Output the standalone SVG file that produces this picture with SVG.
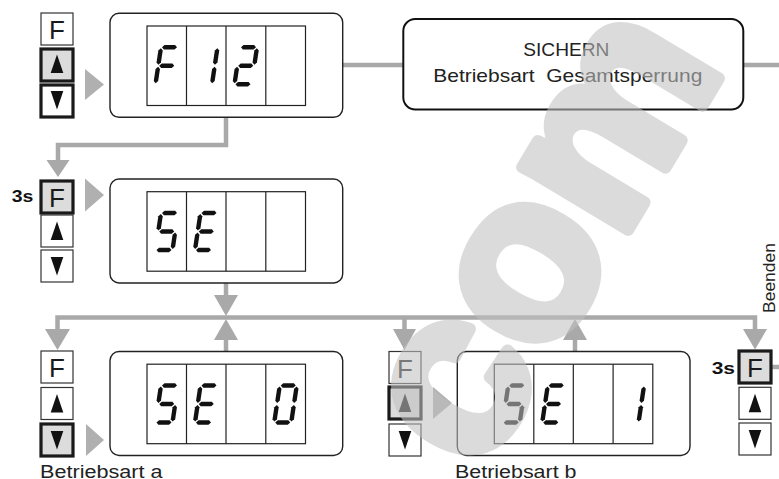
<svg xmlns="http://www.w3.org/2000/svg" width="779" height="479" viewBox="0 0 779 479">
<style>
  .wire{fill:none;stroke:#a9a9a9;stroke-width:4.5;stroke-linejoin:miter}
  .head{fill:#a9a9a9}
  .ptr{fill:#b0b0b0}
  .panel{fill:#fff;stroke:#222;stroke-width:1.4}
  .cell{fill:none;stroke:#222;stroke-width:1.2}
  .btn{fill:#fff;stroke:#333;stroke-width:1.2}
  .btn.on{stroke:#1a1a1a;stroke-width:3.2}
  .btn.lit{fill:#dcdcdc}
  .key{font-family:"Liberation Sans",Arial,sans-serif;font-size:26px;fill:#1a1a1a;text-anchor:middle}
  .tri{fill:#111}
  .seg{fill:#111}
  .lbl{font-family:"Liberation Sans",Arial,sans-serif;font-size:17.5px;fill:#222}
  .box{fill:#fff;stroke:#111;stroke-width:2}
  .hold{font-family:"Liberation Sans",Arial,sans-serif;font-size:16px;font-weight:bold;fill:#111}
  .mark{font-family:"Liberation Sans",Arial,sans-serif;font-weight:bold;font-size:233px;fill:#c1c1c1;stroke:#c1c1c1;stroke-width:12;stroke-linejoin:round;opacity:.57}
</style>
<defs>
  <!-- seven-segment pieces, upright; digits are slanted where used -->
  <path id="sa" class="seg" d="M-7.5,-18.5 l2.2,-2.2 h10.6 l2.2,2.2 l-2.2,2.2 h-10.6 z"/>
  <path id="sg" class="seg" d="M-7.5,0 l2.2,-2.2 h10.6 l2.2,2.2 l-2.2,2.2 h-10.6 z"/>
  <path id="sd" class="seg" d="M-7.5,18.5 l2.2,-2.2 h10.6 l2.2,2.2 l-2.2,2.2 h-10.6 z"/>
  <path id="sb" class="seg" d="M8.5,-17.5 l2.2,2.2 v12.1 l-2.2,2.2 l-2.2,-2.2 v-12.1 z"/>
  <path id="sc" class="seg" d="M8.5,1 l2.2,2.2 v12.1 l-2.2,2.2 l-2.2,-2.2 v-12.1 z"/>
  <path id="sf" class="seg" d="M-8.5,-17.5 l2.2,2.2 v12.1 l-2.2,2.2 l-2.2,-2.2 v-12.1 z"/>
  <path id="se" class="seg" d="M-8.5,1 l2.2,2.2 v12.1 l-2.2,2.2 l-2.2,-2.2 v-12.1 z"/>
  <g id="dF"><use href="#sa"/><use href="#sf"/><use href="#se"/><use href="#sg"/></g>
  <g id="d1"><use href="#sb"/><use href="#sc"/></g>
  <g id="d2"><use href="#sa"/><use href="#sb"/><use href="#sg"/><use href="#se"/><use href="#sd"/></g>
  <g id="dS"><use href="#sa"/><use href="#sf"/><use href="#sg"/><use href="#sc"/><use href="#sd"/></g>
  <g id="dE"><use href="#sa"/><use href="#sf"/><use href="#sg"/><use href="#se"/><use href="#sd"/></g>
  <g id="d0"><use href="#sa"/><use href="#sb"/><use href="#sc"/><use href="#sd"/><use href="#se"/><use href="#sf"/></g>
  <!-- four-digit display housing -->
  <g id="lcd">
    <rect class="panel" x="0" y="0" width="232.7" height="104" rx="9"/>
    <rect class="cell" x="37" y="12.7" width="158.5" height="79.5"/>
    <path class="cell" d="M76.5 12.7v79.5M116 12.7v79.5M155.8 12.7v79.5"/>
  </g>
  <path id="up" class="tri" d="M0,-9.5 L6.3,9 L-6.3,9 Z"/>
  <path id="dn" class="tri" d="M0,9.5 L6.3,-9 L-6.3,-9 Z"/>
</defs>

<!-- connectors -->
<g id="connectors">
  <path class="wire" d="M403,65 H323"/>
  <polygon class="head" points="307,65 325,53 325,77"/>
  <path class="wire" d="M743,65 H779"/>
  <path class="wire" d="M226,105 V145 H58 V162"/>
  <polygon class="head" points="58,177 46.5,160 69.5,160"/>
  <path class="wire" d="M226,271 V297"/>
  <polygon class="head" points="226,316 214,295 238,295"/>
  <path class="wire" d="M57.5,331 V317.5 H755 V331"/>
  <polygon class="head" points="57.5,350 45,329 70,329"/>
  <polygon class="head" points="755,349.5 743,329 767,329"/>
  <path class="wire" d="M404.5,317.5 V331"/>
  <polygon class="head" points="404.5,350 393,329 416,329"/>
  <path class="wire" d="M226,363.5 V338"/>
  <polygon class="head" points="226,319 214,340 238,340"/>
  <path class="wire" d="M575,363.5 V338"/>
  <polygon class="head" points="575,319 563,340 587,340"/>
  <path class="wire" d="M772,367 H779"/>
  <polygon class="ptr" points="85,69 104,84.5 85,100"/>
  <polygon class="ptr" points="85,178.5 104,195 85,211.5"/>
  <polygon class="ptr" points="86,424 104,440 86,456"/>
  <polygon class="ptr" points="433,387 452,403 433,419"/>
</g>

<!-- parameter select: F12 -->
<g id="node-f12">
  <rect class="btn" x="41" y="13" width="32" height="32"/>
  <text class="key" x="57" y="39.3">F</text>
  <rect class="btn on lit" x="41" y="49" width="32" height="32"/>
  <use href="#up" x="57" y="64"/>
  <rect class="btn on" x="41" y="85" width="32" height="32"/>
  <use href="#dn" x="57" y="100"/>
  <use href="#lcd" x="110" y="13.3"/>
  <use href="#dF" transform="translate(166.75,65.8) skewX(-8.5)"/>
  <use href="#d1" transform="translate(206.25,65.8) skewX(-8.5)"/>
  <use href="#d2" transform="translate(245.75,65.8) skewX(-8.5)"/>
</g>

<!-- save dialog -->
<g id="node-sichern">
  <rect class="box" x="403.3" y="19" width="340" height="90.5" rx="12"/>
  <text class="lbl" x="523.3" y="55.5" style="font-size:18.5px" textLength="86" lengthAdjust="spacingAndGlyphs">SICHERN</text>
  <text class="lbl" x="433.3" y="81.7" style="font-size:18.5px" xml:space="preserve" textLength="269" lengthAdjust="spacingAndGlyphs">Betriebsart  Gesamtsperrung</text>
</g>

<!-- SE entry -->
<g id="node-se">
  <text class="hold" x="11.7" y="202" textLength="21.6" lengthAdjust="spacingAndGlyphs">3s</text>
  <rect class="btn on lit" x="41" y="181" width="32" height="32"/>
  <text class="key" x="57" y="207.3">F</text>
  <rect class="btn" x="41" y="215" width="32" height="32"/>
  <use href="#up" x="57" y="231"/>
  <rect class="btn" x="41" y="250" width="32" height="32"/>
  <use href="#dn" x="57" y="266"/>
  <use href="#lcd" x="110" y="179"/>
  <use href="#dS" transform="translate(166.75,231.5) skewX(-8.5)"/>
  <use href="#dE" transform="translate(206.25,231.5) skewX(-8.5)"/>
</g>

<!-- mode a -->
<g id="node-se0">
  <rect class="btn" x="41" y="351" width="32" height="32"/>
  <text class="key" x="57" y="377.3">F</text>
  <rect class="btn" x="41" y="387.5" width="32" height="32"/>
  <use href="#up" x="57" y="403.5"/>
  <rect class="btn on lit" x="41" y="424" width="32" height="32"/>
  <use href="#dn" x="57" y="440"/>
  <use href="#lcd" x="110" y="351.5"/>
  <use href="#dS" transform="translate(166.75,404) skewX(-8.5)"/>
  <use href="#dE" transform="translate(206.25,404) skewX(-8.5)"/>
  <use href="#d0" transform="translate(285.5,404) skewX(-8.5)"/>
  <text class="lbl" x="40" y="477.5" textLength="122.5" lengthAdjust="spacingAndGlyphs">Betriebsart a</text>
</g>

<!-- mode b -->
<g id="node-se1">
  <rect class="btn" x="389" y="351.5" width="32" height="32"/>
  <text class="key" x="405" y="377.8">F</text>
  <rect class="btn on lit" x="389" y="387" width="32" height="32"/>
  <use href="#up" x="405" y="403"/>
  <rect class="btn" x="389" y="424" width="32" height="32"/>
  <use href="#dn" x="405" y="440"/>
  <use href="#lcd" x="457.3" y="351.5"/>
  <use href="#dS" transform="translate(514,404) skewX(-8.5)"/>
  <use href="#dE" transform="translate(553.5,404) skewX(-8.5)"/>
  <use href="#d1" transform="translate(632.8,404) skewX(-8.5)"/>
  <text class="lbl" x="455" y="477.5" textLength="121.5" lengthAdjust="spacingAndGlyphs">Betriebsart b</text>
</g>

<!-- exit -->
<g id="node-exit">
  <text class="lbl" transform="translate(775,313) rotate(-90)" style="font-size:16.5px" textLength="70" lengthAdjust="spacingAndGlyphs">Beenden</text>
  <text class="hold" x="711.7" y="373.5" textLength="23.3" lengthAdjust="spacingAndGlyphs">3s</text>
  <rect class="btn on lit" x="739" y="351" width="32" height="32"/>
  <text class="key" x="755" y="377.3">F</text>
  <rect class="btn" x="739" y="387.3" width="32" height="32"/>
  <use href="#up" x="755" y="403.3"/>
  <rect class="btn" x="739" y="423" width="32" height="32"/>
  <use href="#dn" x="755" y="439"/>
</g>

<!-- watermark lettering laid over the drawing -->
<text class="mark" transform="translate(531,273.5) rotate(-59)" x="-200.7" y="60.6">com</text>
</svg>
